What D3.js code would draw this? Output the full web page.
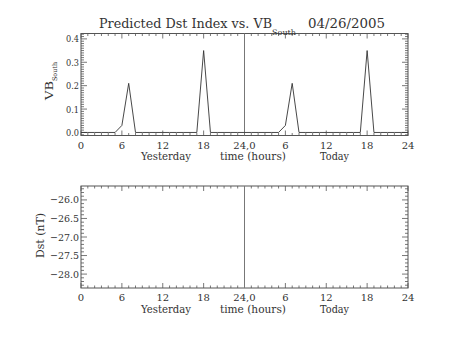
<!DOCTYPE html>
<html><head><meta charset="utf-8">
<script src="https://cdn.jsdelivr.net/npm/d3@7"></script>
<style>
body{margin:0;background:#fff;}
text{font-family:"DejaVu Serif","Liberation Serif",serif;fill:#333;}
</style></head>
<body><svg id="c" width="453" height="340"></svg>
<script>
// ---- data ----
const hours = d3.range(0, 49);
const vbValues = [0,0,0,0,0,0,0.03,0.21,0,0,0,0,0,0,0,0,0,0,0.35,0,0,0,0,0,
                  0,0,0,0,0,0,0.03,0.21,0,0,0,0,0,0,0,0,0,0,0.35,0,0,0,0,0,0];
const xTickValues = [0,6,12,18,24,30,36,42,48];
const xTickLabels = ["0","6","12","18","24,0","6","12","18","24"];
const vbTicks = [0.0,0.1,0.2,0.3,0.4];
const dstTicks = [-26.0,-26.5,-27.0,-27.5,-28.0];
const dayLabels = ["Yesterday","time (hours)","Today"];
const dayLabelHours = [8.8,20.4,35.1];
const dayLabelWidths = [50,66,29];

const svg = d3.select("#c");
const L = 81, R = 408;
const x = d3.scaleLinear().domain([0,48]).range([L,R]);

function panel(top, bottom, yDomain, yTicks, yMinorStep, fmt, tickW) {
  const y = d3.scaleLinear().domain(yDomain).range([bottom, top]);
  const g = svg.append("g");
  const stroke = "#555";
  g.append("rect").attr("x",L).attr("y",top).attr("width",R-L).attr("height",bottom-top)
    .attr("fill","none").attr("stroke",stroke).attr("stroke-width",1);
  const minorX = d3.range(0,49,1);
  [bottom, top].forEach((yy,i)=>{
    const dir = i===0 ? -1 : 1;
    g.selectAll(null).data(minorX).enter().append("line")
      .attr("x1",d=>x(d)).attr("x2",d=>x(d))
      .attr("y1",yy).attr("y2",d=>yy+dir*(d%6===0?5:2.5))
      .attr("stroke",stroke).attr("stroke-width",0.8);
  });
  const [y0,y1] = yDomain;
  const start = Math.ceil(Math.min(y0,y1)/yMinorStep - 1e-6);
  const end = Math.floor(Math.max(y0,y1)/yMinorStep + 1e-6);
  const minorY = d3.range(start, end+1).map(k=>k*yMinorStep);
  const isMajor = v => yTicks.some(t=>Math.abs(t-v)<yMinorStep/10);
  [L, R].forEach((xx,i)=>{
    const dir = i===0 ? 1 : -1;
    g.selectAll(null).data(minorY).enter().append("line")
      .attr("y1",d=>y(d)).attr("y2",d=>y(d))
      .attr("x1",xx).attr("x2",d=>xx+dir*(isMajor(d)?6:3))
      .attr("stroke",stroke).attr("stroke-width",0.8);
  });
  g.selectAll(null).data(yTicks).enter().append("text")
    .attr("x",L-2).attr("y",d=>y(d)+3.5).attr("text-anchor","end")
    .attr("font-size",10).attr("textLength",tickW).attr("lengthAdjust","spacingAndGlyphs")
    .text(fmt);
  g.selectAll(null).data(xTickValues).enter().append("text")
    .attr("x",d=>x(d)).attr("y",bottom+13).attr("text-anchor","middle")
    .attr("font-size",10).text((d,i)=>xTickLabels[i]);
  g.selectAll(null).data(dayLabels).enter().append("text")
    .attr("x",(d,i)=>x(dayLabelHours[i])).attr("y",bottom+24.5).attr("text-anchor","start")
    .attr("font-size",10.5).attr("textLength",(d,i)=>dayLabelWidths[i])
    .attr("lengthAdjust","spacingAndGlyphs").text(d=>d);
  g.append("line").attr("x1",x(24)).attr("x2",x(24)).attr("y1",top).attr("y2",bottom)
    .attr("stroke","#777").attr("stroke-width",1);
  return {g,y};
}

const p1 = panel(33.5, 135.5, [-0.013, 0.423], vbTicks, 0.01, d=>d.toFixed(1), 13);
p1.g.append("path").datum(hours)
  .attr("d", d3.line().x(h=>x(h)).y((h,i)=>p1.y(vbValues[i])))
  .attr("fill","none").attr("stroke","#333").attr("stroke-width",0.9);

const p2 = panel(186, 288, [-28.375, -25.625], dstTicks, 0.1,
  d=>d.toFixed(1).replace("-","\u2212"), 29);

// title
svg.append("text").attr("x",99).attr("y",28).attr("font-size",12)
  .attr("textLength",173).attr("lengthAdjust","spacingAndGlyphs")
  .text("Predicted Dst Index vs. VB");
svg.append("text").attr("x",272).attr("y",34.5).attr("font-size",7.5)
  .attr("textLength",24).attr("lengthAdjust","spacingAndGlyphs").text("South");
svg.append("text").attr("x",308).attr("y",28).attr("font-size",12)
  .attr("textLength",77).attr("lengthAdjust","spacingAndGlyphs").text("04/26/2005");

// y labels
svg.append("text").attr("transform","translate(53,100) rotate(-90)")
  .attr("font-size",10.5).attr("textLength",19).attr("lengthAdjust","spacingAndGlyphs").text("VB");
svg.append("text").attr("transform","translate(57,81) rotate(-90)")
  .attr("font-size",6.5).attr("textLength",19).attr("lengthAdjust","spacingAndGlyphs").text("South");
svg.append("text").attr("transform","translate(44,258) rotate(-90)")
  .attr("font-size",10.5).attr("textLength",45).attr("lengthAdjust","spacingAndGlyphs").text("Dst (nT)");
</script></body></html>
